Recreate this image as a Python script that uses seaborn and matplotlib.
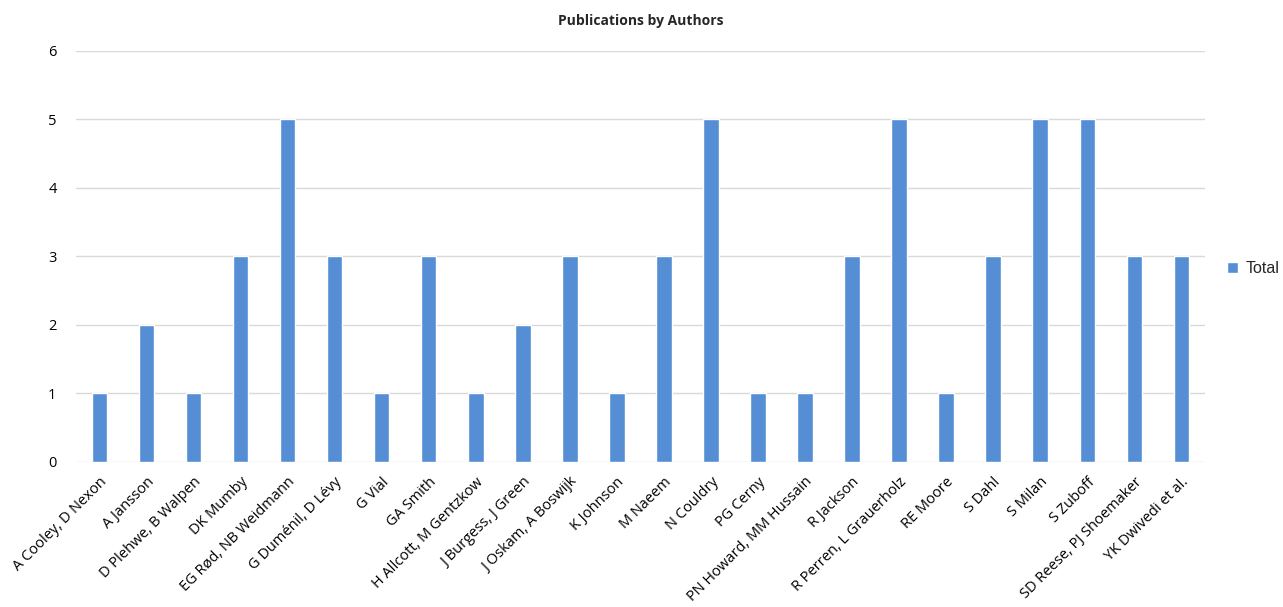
import matplotlib
matplotlib.use("Agg")
import matplotlib.pyplot as plt
import seaborn as sns
import pandas as pd

# Data
authors = [
    "A Cooley, D Nexon", "A Jansson", "D Plehwe, B Walpen", "DK Mumby",
    "EG Rød, NB Weidmann", "G Duménil, D Lévy", "G Vial", "GA Smith",
    "H Allcott, M Gentzkow", "J Burgess, J Green", "J Oskam, A Boswijk",
    "K Johnson", "M Naeem", "N Couldry", "PG Cerny", "PN Howard, MM Hussain",
    "R Jackson", "R Perren, L Grauerholz", "RE Moore", "S Dahl", "S Milan",
    "S Zuboff", "SD Reese, PJ Shoemaker", "YK Dwivedi et al.",
]
totals = [1, 2, 1, 3, 5, 3, 1, 3, 1, 2, 3, 1, 3, 5, 1, 1, 3, 5, 1, 3, 5, 5, 3, 3]
y_ticks = [0, 1, 2, 3, 4, 5, 6]

df = pd.DataFrame({"Author": authors, "Total": totals})

sns.set_style("white")
plt.rcParams["font.family"] = ["Open Sans", "DejaVu Sans"]

fig = plt.figure(figsize=(12.83, 6.07), dpi=100)
ax = fig.add_axes([0.0592, 0.239, 0.8799, 0.677])

sns.barplot(data=df, x="Author", y="Total", color="#558ED5", width=0.33,
            saturation=1, ax=ax, label="Total", zorder=3)

ax.set_ylim(0, 6)
ax.set_yticks(y_ticks)
ax.set_xlim(-0.5, len(authors) - 0.5)
ax.yaxis.grid(True, color="#D9D9D9", linewidth=1, zorder=0)
for s in ax.spines.values():
    s.set_visible(False)
ax.tick_params(axis="both", length=0, labelsize=10.5, colors="#000000")
ax.tick_params(axis="y", pad=14)
ax.tick_params(axis="x", pad=9)
ax.set_xticks(range(len(authors)))
ax.set_xticklabels(authors, rotation=45, ha="right", rotation_mode="anchor")
ax.set_xlabel("")
ax.set_ylabel("")

ax.set_title("Publications by Authors", fontsize=10, fontweight="bold", pad=19)

if ax.get_legend() is not None:
    ax.get_legend().remove()
handles, labels = ax.get_legend_handles_labels()
fig.legend(handles[:1], labels[:1], loc="center left", bbox_to_anchor=(0.945, 0.558),
           frameon=False, handlelength=0.7, handleheight=0.7, handletextpad=0.5,
           prop={"family": "Liberation Sans", "size": 11.5})

fig.savefig("out.png", dpi=100)
